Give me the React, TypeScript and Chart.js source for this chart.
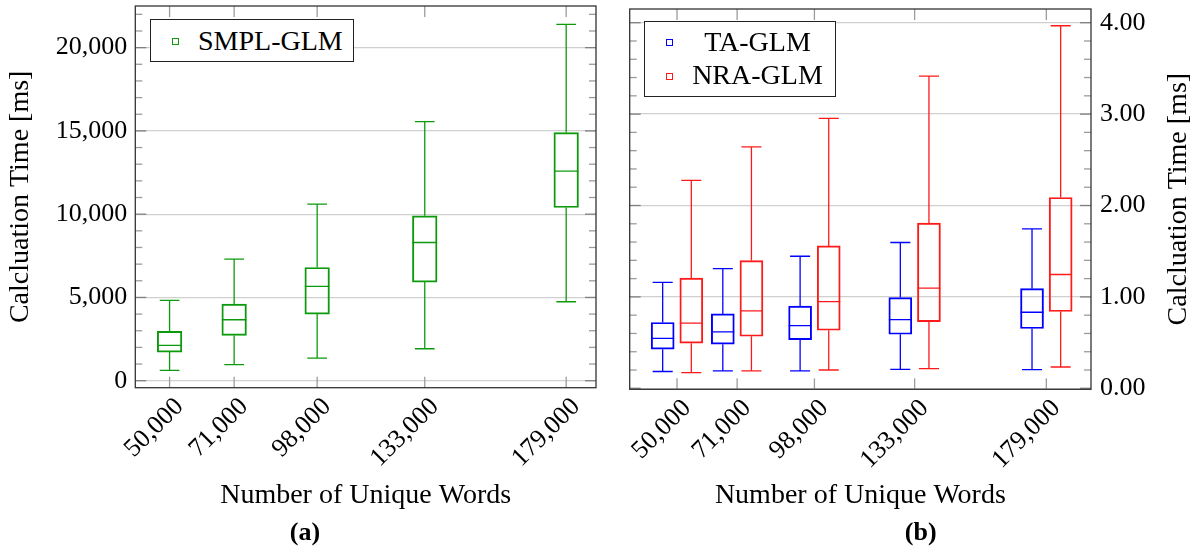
import React, { useEffect, useRef } from 'react';
import { Chart, registerables } from 'chart.js';

Chart.register(...registerables);

// ---------- data ----------
const wordCounts = [50000, 71000, 98000, 133000, 179000];

// (a) SMPL-GLM, calculation time in ms
const smplMin = [620, 960, 1360, 1920, 4740];
const smplQ1 = [1720, 2720, 4000, 5920, 10400];
const smplMed = [2120, 3660, 5660, 8300, 12580];
const smplQ3 = [2960, 4600, 6800, 9900, 14900];
const smplMax = [4820, 7300, 10600, 15560, 21400];

// (b) TA-GLM, calculation time in ms
const taMin = [0.184, 0.19, 0.19, 0.208, 0.204];
const taQ1 = [0.428, 0.482, 0.533, 0.591, 0.654];
const taMed = [0.547, 0.617, 0.686, 0.752, 0.832];
const taQ3 = [0.72, 0.814, 0.9, 0.993, 1.09];
const taMax = [1.158, 1.31, 1.445, 1.595, 1.744];

// (b) NRA-GLM, calculation time in ms
const nraMin = [0.171, 0.19, 0.2, 0.216, 0.233];
const nraQ1 = [0.494, 0.569, 0.635, 0.73, 0.84];
const nraMed = [0.714, 0.846, 0.949, 1.095, 1.245];
const nraQ3 = [1.206, 1.398, 1.558, 1.807, 2.088];
const nraMax = [2.274, 2.642, 2.953, 3.416, 3.967];

const yTicksA = [0, 5000, 10000, 15000, 20000];
const yTicksB = [0, 1, 2, 3, 4];

const FONT = "'Liberation Serif', 'Times New Roman', serif";
const GREEN = '#0c9a0c';
const BLUE = '#0000ff';
const RED = '#ff1a1a';

function boxDatasets(
  label: string,
  positions: number[],
  mins: number[],
  q1s: number[],
  meds: number[],
  q3s: number[],
  maxs: number[],
  color: string,
  halfBox: number,
  halfCap: number,
  barPx: number
) {
  const box = {
    type: 'bar',
    label,
    data: positions.map((p, i) => ({ x: p, y: [q1s[i], q3s[i]] })),
    borderColor: color,
    backgroundColor: 'rgba(0,0,0,0)',
    borderWidth: 1.3,
    borderSkipped: false,
    barThickness: barPx,
    grouped: false,
  };
  const pts: any[] = [];
  positions.forEach((p, i) => {
    pts.push({ x: p - halfBox, y: meds[i] }, { x: p + halfBox, y: meds[i] }, { x: p, y: null });
    pts.push({ x: p, y: q3s[i] }, { x: p, y: maxs[i] }, { x: p, y: null });
    pts.push({ x: p, y: q1s[i] }, { x: p, y: mins[i] }, { x: p, y: null });
    pts.push({ x: p - halfCap, y: maxs[i] }, { x: p + halfCap, y: maxs[i] }, { x: p, y: null });
    pts.push({ x: p - halfCap, y: mins[i] }, { x: p + halfCap, y: mins[i] }, { x: p, y: null });
  });
  const lines = {
    type: 'line',
    label: label + ' whiskers',
    data: pts,
    borderColor: color,
    borderWidth: 1.3,
    pointRadius: 0,
    fill: false,
    spanGaps: false,
    tension: 0,
  };
  return [box, lines];
}

function framePlugin(minorStep: number, majorStep: number, xTickValues: number[], rightTitle?: string) {
  return {
    id: 'frameTicks',
    afterDraw(chart: any) {
      const { ctx, chartArea } = chart;
      const { left, right, top, bottom } = chartArea;
      const ys = chart.scales.y;
      const xs = chart.scales.x;
      const seg = (x1: number, y1: number, x2: number, y2: number) => {
        ctx.beginPath();
        ctx.moveTo(x1, y1);
        ctx.lineTo(x2, y2);
        ctx.stroke();
      };
      ctx.save();
      ctx.lineWidth = 1.3;
      const start = Math.ceil(ys.min / minorStep - 1e-9);
      for (let k = start; k * minorStep <= ys.max + 1e-9; k++) {
        const v = k * minorStep;
        const r = v / majorStep;
        const isMajor = Math.abs(r - Math.round(r)) < 1e-6;
        const py = ys.getPixelForValue(v);
        const len = isMajor ? 11 : 7;
        ctx.strokeStyle = isMajor ? '#808080' : '#9c9c9c';
        seg(left, py, left + len, py);
        seg(right, py, right - len, py);
      }
      ctx.strokeStyle = '#9c9c9c';
      for (const v of xTickValues) {
        const px = xs.getPixelForValue(v);
        seg(px, bottom, px, bottom - 11);
        seg(px, top, px, top + 11);
      }
      ctx.strokeStyle = '#333333';
      ctx.lineWidth = 1.3;
      ctx.strokeRect(left, top, right - left, bottom - top);
      if (rightTitle) {
        ctx.fillStyle = '#000';
        ctx.font = `28px ${FONT}`;
        ctx.textAlign = 'center';
        ctx.textBaseline = 'middle';
        ctx.translate(chart.width - 13, (top + bottom) / 2);
        ctx.rotate(-Math.PI / 2);
        ctx.fillText(rightTitle, 0, 0);
      }
      ctx.restore();
    },
  };
}

const fmtInt = (v: any) => Number(v).toLocaleString('en-US');

export default function App() {
  const refA = useRef<HTMLCanvasElement>(null);
  const refB = useRef<HTMLCanvasElement>(null);

  useEffect(() => {
    Chart.defaults.font.family = FONT;
    Chart.defaults.color = '#000';

    const xTickOpts = {
      autoSkip: false,
      minRotation: 45,
      maxRotation: 45,
      padding: -4,
      labelOffset: 10,
      font: { size: 26 },
      color: '#000',
      callback: fmtInt,
    };

    const chartA = new Chart(refA.current as HTMLCanvasElement, {
      type: 'bar',
      data: {
        datasets: boxDatasets('SMPL-GLM', wordCounts, smplMin, smplQ1, smplMed, smplQ3, smplMax, GREEN, 4000, 3200, 24.6) as any,
      },
      options: {
        responsive: false,
        animation: false,
        events: [],
        layout: { padding: { top: 6, left: 0, right: 14, bottom: 0 } },
        plugins: { legend: { display: false }, tooltip: { enabled: false }, title: { display: false } },
        scales: {
          x: {
            type: 'linear',
            min: 38850,
            max: 188700,
            offset: false,
            grid: { display: false },
            border: { display: false },
            afterBuildTicks: (s: any) => {
              s.ticks = wordCounts.map((v) => ({ value: v }));
            },
            ticks: xTickOpts,
            title: { display: true, text: 'Number of Unique Words', font: { size: 28 }, color: '#000', padding: { top: 0, bottom: 39 } },
            afterFit: (s: any) => {
              s.height = 163.3;
              s.paddingLeft = 0;
              s.paddingRight = 0;
            },
          },
          y: {
            type: 'linear',
            min: -420,
            max: 22500,
            afterBuildTicks: (s: any) => {
              s.ticks = yTicksA.map((v) => ({ value: v }));
            },
            grid: { color: '#d0d0d0', lineWidth: 1.3, drawTicks: false },
            border: { display: false },
            ticks: { padding: 8, font: { size: 26 }, color: '#000', callback: fmtInt },
            title: { display: true, text: 'Calcluation Time [ms]', font: { size: 28 }, color: '#000', padding: { top: 4, bottom: 0 } },
            afterFit: (s: any) => {
              s.width = 135.3;
              s.paddingTop = 0;
              s.paddingBottom = 0;
            },
          },
        },
      } as any,
      plugins: [framePlugin(1000, 5000, wordCounts)],
    });

    const taPos = wordCounts.map((v) => v - 5000);
    const nraPos = wordCounts.map((v) => v + 5000);
    const chartB = new Chart(refB.current as HTMLCanvasElement, {
      type: 'bar',
      data: {
        datasets: [
          ...boxDatasets('TA-GLM', taPos, taMin, taQ1, taMed, taQ3, taMax, BLUE, 4000, 3500, 23),
          ...boxDatasets('NRA-GLM', nraPos, nraMin, nraQ1, nraMed, nraQ3, nraMax, RED, 4000, 3500, 23),
        ] as any,
      },
      options: {
        responsive: false,
        animation: false,
        events: [],
        layout: { padding: { top: 9, left: 19.7, right: 0, bottom: 0 } },
        plugins: { legend: { display: false }, tooltip: { enabled: false }, title: { display: false } },
        scales: {
          x: {
            type: 'linear',
            min: 33480,
            max: 194600,
            offset: false,
            grid: { display: false },
            border: { display: false },
            afterBuildTicks: (s: any) => {
              s.ticks = wordCounts.map((v) => ({ value: v }));
            },
            ticks: xTickOpts,
            title: { display: true, text: 'Number of Unique Words', font: { size: 28 }, color: '#000', padding: { top: 0, bottom: 39 } },
            afterFit: (s: any) => {
              s.height = 161.7;
              s.paddingLeft = 0;
              s.paddingRight = 0;
            },
          },
          y: {
            type: 'linear',
            position: 'right',
            min: -0.011,
            max: 4.15,
            afterBuildTicks: (s: any) => {
              s.ticks = yTicksB.map((v) => ({ value: v }));
            },
            grid: { color: '#d0d0d0', lineWidth: 1.3, drawTicks: false },
            border: { display: false },
            ticks: { padding: 9, font: { size: 26 }, color: '#000', callback: (v: any) => Number(v).toFixed(2) },
            title: { display: false },
            afterFit: (s: any) => {
              s.width = 101;
              s.paddingTop = 0;
              s.paddingBottom = 0;
            },
          },
        },
      } as any,
      plugins: [framePlugin(0.2, 1, wordCounts, 'Calcluation Time [ms]')],
    });

    return () => {
      chartA.destroy();
      chartB.destroy();
    };
  }, []);

  const legendBox: React.CSSProperties = {
    position: 'absolute',
    background: '#fff',
    border: '1.3px solid #222',
    boxSizing: 'border-box',
    fontFamily: FONT,
    fontSize: 28,
    color: '#000',
  };
  const marker = (color: string, left: number, top: number): React.CSSProperties => ({
    position: 'absolute',
    left,
    top,
    width: 7,
    height: 7,
    border: `1.3px solid ${color}`,
    boxSizing: 'border-box',
  });

  return (
    <div style={{ position: 'absolute', left: 0, top: 0, width: 1192, height: 551, background: '#fff', overflow: 'hidden' }}>
      <canvas ref={refA} width={610} height={551} style={{ position: 'absolute', left: 0, top: 0, display: 'block' }} />
      <canvas ref={refB} width={582} height={551} style={{ position: 'absolute', left: 610, top: 0, display: 'block' }} />

      <div style={{ ...legendBox, left: 150.3, top: 19, width: 203.5, height: 43.3 }}>
        <div style={marker(GREEN, 20.9, 17.5)} />
        <div style={{ position: 'absolute', left: 46.7, top: 6, lineHeight: '30px', whiteSpace: 'nowrap' }}>SMPL-GLM</div>
      </div>

      <div style={{ ...legendBox, left: 644.3, top: 20.7, width: 192, height: 76.6 }}>
        <div style={marker(BLUE, 21.2, 17.8)} />
        <div style={marker(RED, 21.2, 51.1)} />
        <div style={{ position: 'absolute', left: 12.2, width: 200, top: 5.5, lineHeight: '30px', textAlign: 'center', whiteSpace: 'nowrap' }}>TA-GLM</div>
        <div style={{ position: 'absolute', left: 12.2, width: 200, top: 38.5, lineHeight: '30px', textAlign: 'center', whiteSpace: 'nowrap' }}>NRA-GLM</div>
      </div>

      <div style={{ position: 'absolute', left: 255, width: 100, top: 517, lineHeight: '30px', textAlign: 'center', fontFamily: FONT, fontWeight: 'bold', fontSize: 26, color: '#000' }}>(a)</div>
      <div style={{ position: 'absolute', left: 870.7, width: 100, top: 517, lineHeight: '30px', textAlign: 'center', fontFamily: FONT, fontWeight: 'bold', fontSize: 26, color: '#000' }}>(b)</div>
    </div>
  );
}
